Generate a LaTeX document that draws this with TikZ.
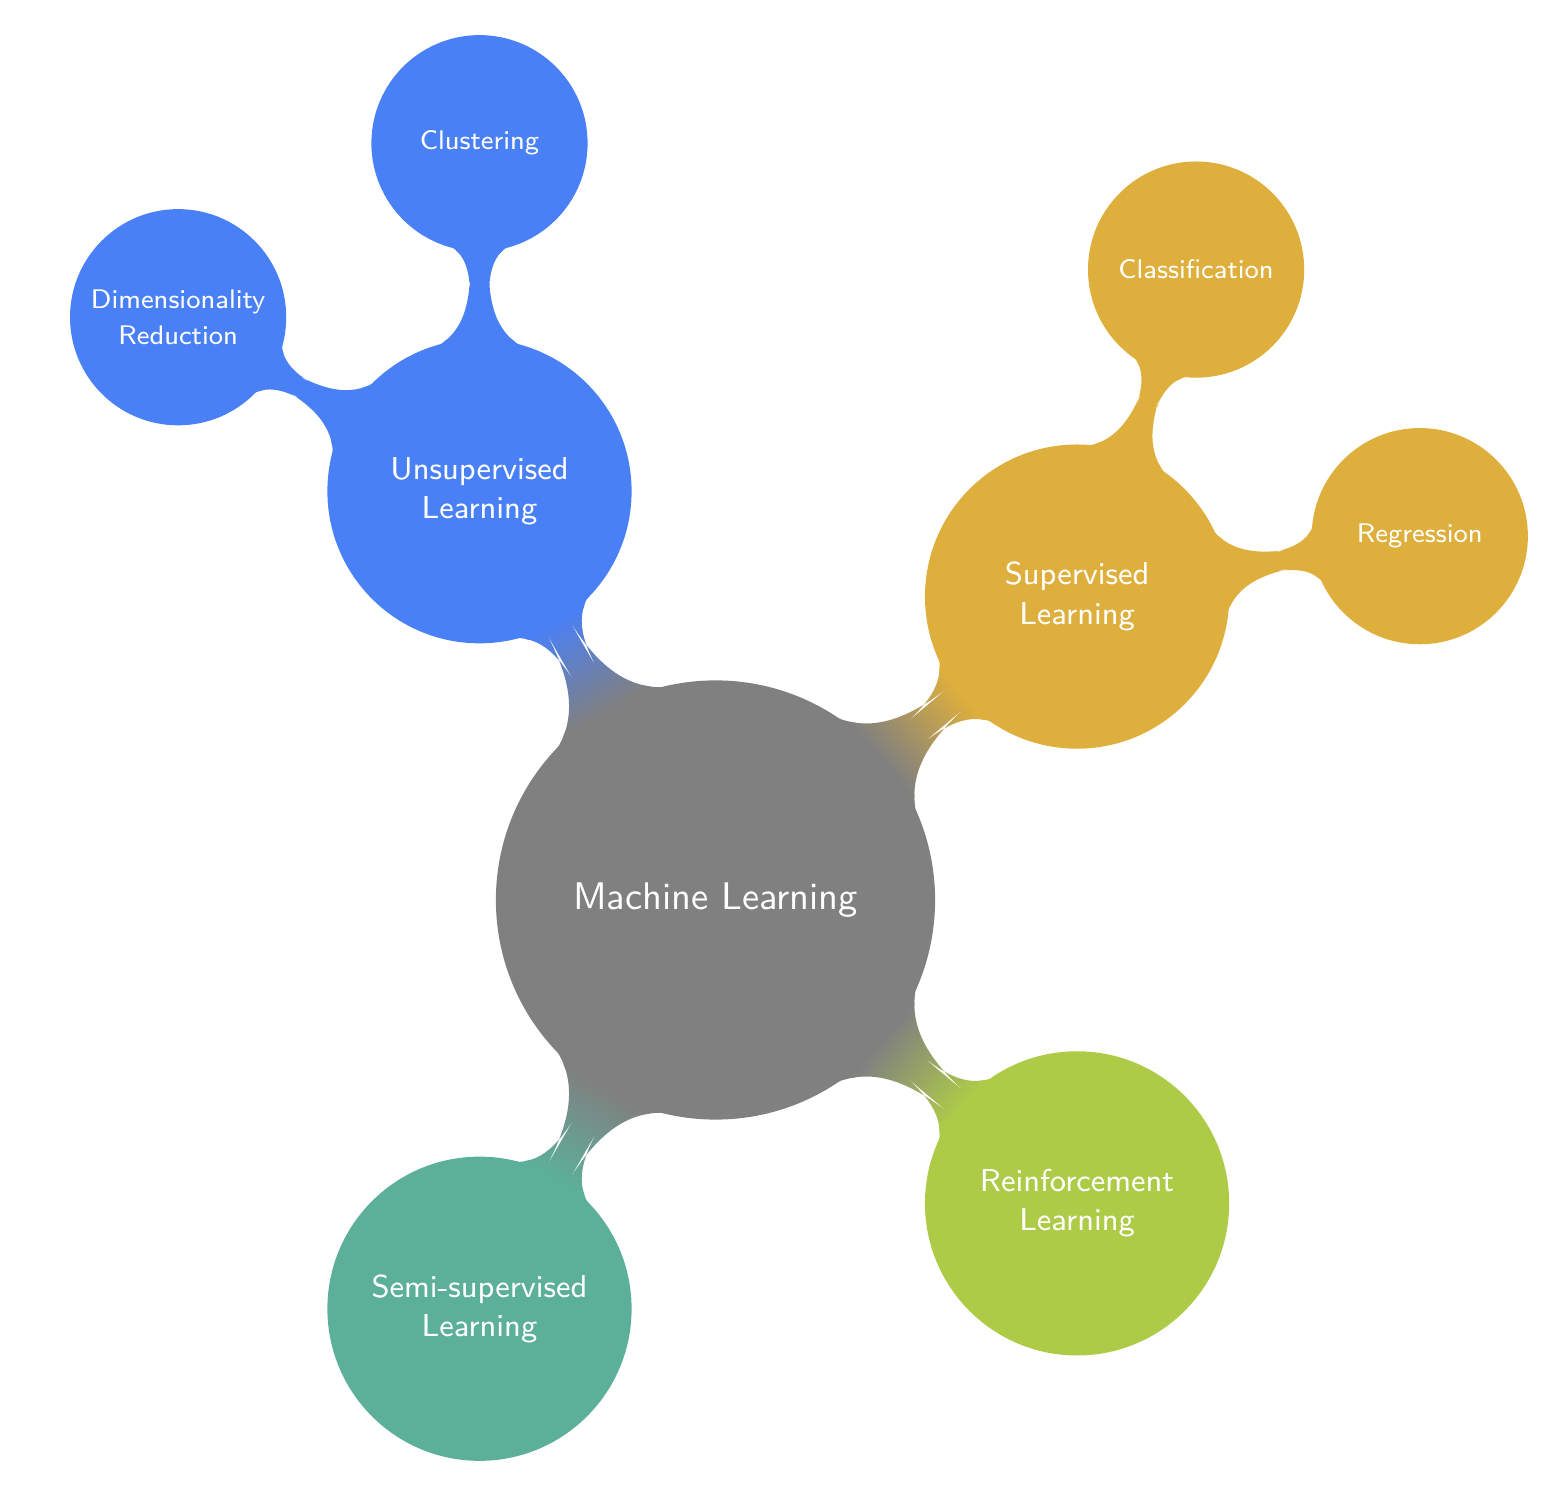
\documentclass[tikz,border=0pt]{standalone}
\usetikzlibrary{mindmap,calc}
\definecolor{rootgray}{RGB}{128,128,128}
\definecolor{ublue}{RGB}{74,128,246}
\definecolor{sgold}{RGB}{222,175,60}
\definecolor{rgreen}{RGB}{174,203,72}
\definecolor{steal}{RGB}{92,176,154}
\begin{document}
\begin{tikzpicture}[mindmap,
  rootc/.style={concept, concept color=rootgray, text=white, minimum size=4.35cm, inner sep=0pt, text width=3.3cm, align=center, font=\sffamily\fontsize{10.95}{13}\selectfont},
  lvlone/.style={concept, text=white, minimum size=3cm, inner sep=0pt, text width=2.6cm, align=center, font=\sffamily\fontsize{9.0}{11.2}\selectfont},
  lvltwo/.style={concept, text=white, minimum size=2.12cm, inner sep=0pt, text width=1.8cm, align=center, font=\sffamily\fontsize{7.65}{10.2}\selectfont}]
\useasboundingbox (0,0) rectangle (15.66,15.12);
\node[rootc] (root) at (7.155,6.12) {Machine Learning};
\node[lvlone, concept color=ublue] (unsup) at ($(root)+(120:4.72)$) {Unsupervised\\Learning};
\node[lvlone, concept color=sgold] (sup) at ($(root)+(40:4.72)$) {Supervised\\Learning};
\node[lvlone, concept color=rgreen] (reinf) at ($(root)+(-40:4.72)$) {Reinforcement\\Learning};
\node[lvlone, concept color=steal] (semi) at ($(root)+(-120:4.72)$) {Semi-supervised\\Learning};
\node[lvltwo, concept color=ublue] (clust) at ($(unsup)+(90:3.48)$) {Clustering};
\node[lvltwo, concept color=ublue] (dimred) at ($(unsup)+(150:3.48)$) {Dimensionality\\Reduction};
\node[lvltwo, concept color=sgold] (class) at ($(sup)+(70:3.48)$) {Classification};
\node[lvltwo, concept color=sgold] (regr) at ($(sup)+(10:3.48)$) {Regression};
\path (root) to[circle connection bar switch color=from (rootgray) to (ublue)] (unsup);
\path (root) to[circle connection bar switch color=from (rootgray) to (sgold)] (sup);
\path (root) to[circle connection bar switch color=from (rootgray) to (rgreen)] (reinf);
\path (root) to[circle connection bar switch color=from (rootgray) to (steal)] (semi);
\path (unsup) to[circle connection bar switch color=from (ublue) to (ublue)] (clust);
\path (unsup) to[circle connection bar switch color=from (ublue) to (ublue)] (dimred);
\path (sup) to[circle connection bar switch color=from (sgold) to (sgold)] (class);
\path (sup) to[circle connection bar switch color=from (sgold) to (sgold)] (regr);
\end{tikzpicture}
\end{document}
